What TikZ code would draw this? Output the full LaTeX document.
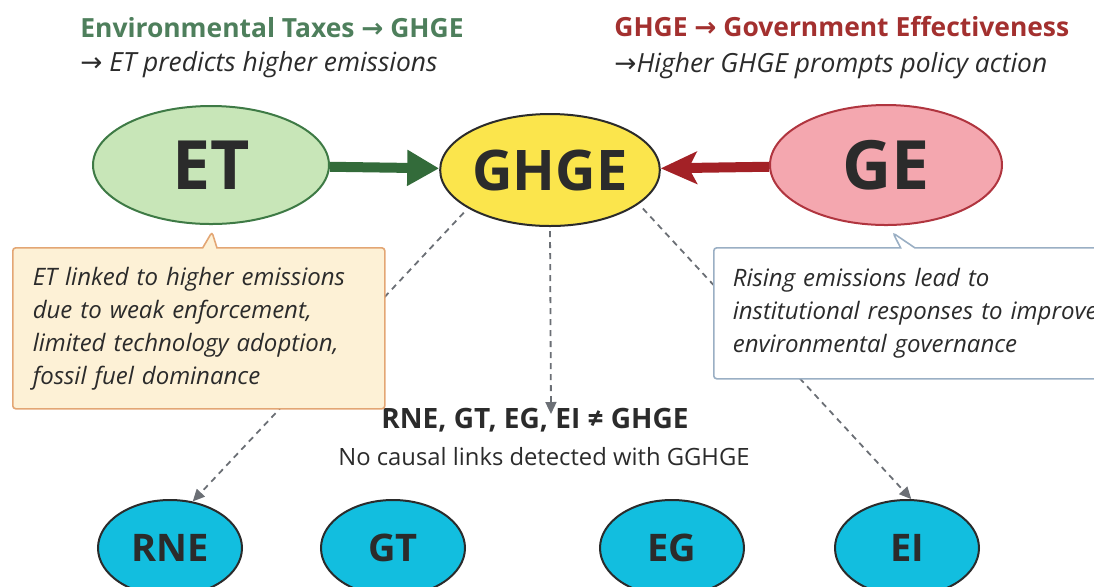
\documentclass[tikz,border=0pt]{standalone}
\usepackage{fontspec}
\setmainfont{Open Sans}
\newfontfamily\arrowfont{DejaVu Sans}
\usetikzlibrary{arrows.meta}
\usetikzlibrary{shapes.geometric}
\usetikzlibrary{shapes.callouts}

\definecolor{titlegreen}{HTML}{4E7F5C}
\definecolor{titlered}{HTML}{A3302F}
\definecolor{inkgray}{HTML}{2B2B2B}
\definecolor{etfill}{HTML}{C8E6B8}
\definecolor{etedge}{HTML}{3E7A45}
\definecolor{etarrow}{HTML}{336B3A}
\definecolor{ghgefill}{HTML}{FBE54C}
\definecolor{gefill}{HTML}{F4A7AF}
\definecolor{geedge}{HTML}{B0353F}
\definecolor{gearrow}{HTML}{A32126}
\definecolor{leaffill}{HTML}{12BEDF}
\definecolor{notefill}{HTML}{FDF1D6}
\definecolor{noteedge}{HTML}{E3A674}
\definecolor{govedge}{HTML}{9AAFC4}
\definecolor{dashgray}{HTML}{6B6F75}

\begin{document}
\begin{tikzpicture}[x=0.5pt, y=-0.5pt,
    bubble/.style={ellipse, draw, line width=1pt, inner sep=0pt, text=inkgray},
    bigbubble/.style={bubble, font=\bfseries\fontsize{34}{40}\selectfont},
    leaf/.style={bubble, fill=leaffill, draw=inkgray, minimum width=72pt, minimum height=48pt,
        font=\bfseries\fontsize{19}{22}\selectfont},
    heading/.style={anchor=base west, inner sep=0pt, font=\bfseries\fontsize{13.2}{15}\selectfont},
    subheading/.style={anchor=base west, inner sep=0pt, text=inkgray, font=\itshape\fontsize{13.2}{15}\selectfont},
    note/.style={rectangle callout, rounded corners=1.5pt, line width=0.8pt, anchor=north west,
        align=left, text=inkgray, inner xsep=10pt, font=\itshape\fontsize{12}{16.5}\selectfont},
    dasharrow/.style={dashgray, line width=0.9pt, dash pattern=on 3pt off 2.5pt,
        -{Triangle[length=6pt, width=5.5pt]}}]
    \useasboundingbox (0,0) rectangle (1094,586);
    \clip (0,0) rectangle (1094,586);

    \node[heading, text=titlegreen] (ettitle) at (80,37) {Environmental Taxes {\arrowfont →} GHGE};
    \node[subheading] (etline) at (80,71) {{\arrowfont →} ET predicts higher emissions};
    \node[heading, text=titlered] (getitle) at (614,36) {GHGE {\arrowfont →} Government Effectiveness};
    \node[subheading] (geline) at (614,72) {{\arrowfont →}Higher GHGE prompts policy action};

    \node[bigbubble, fill=etfill, draw=etedge, minimum width=118pt, minimum height=59pt] (ET) at (211,165) {ET};
    \node[bubble, fill=ghgefill, draw=inkgray, minimum width=95pt, minimum height=56pt,
        font=\bfseries\fontsize{28}{32}\selectfont] (GHGE) at (550,170) {GHGE};
    \node[bigbubble, fill=gefill, draw=geedge, minimum width=116pt, minimum height=60pt] (GE) at (886,165) {GE};

    \draw[etarrow, line width=5pt, -{Triangle[length=16pt, width=17pt]}] (ET) -- (GHGE);
    \draw[gearrow, line width=5pt, -{Stealth[length=18pt, width=16pt, inset=4pt]}] (GE) -- (GHGE);

    \foreach \name/\x in {RNE/170, GT/393, EG/672, EI/907}
    {
        \node[leaf] (\name) at (\x,548) {\name};
    }

    \node[anchor=base, text=inkgray, font=\bfseries\fontsize{14}{16}\selectfont] (nolink) at (535,428)
        {RNE, GT, EG, EI ≠ GHGE};
    \node[anchor=base, text=inkgray, font=\fontsize{11.9}{14}\selectfont] (nolinknote) at (544,465)
        {No causal links detected with GGHGE};

    \coordinate (midtip) at (551,414);
    \draw[dasharrow, shorten <=3pt] (GHGE.205) -- (RNE.64);
    \draw[dasharrow, shorten <=2pt] (GHGE.south) -- (midtip);
    \draw[dasharrow, shorten <=3pt] (GHGE.339) -- (EI.85);

    \coordinate (ettip) at (212,232);
    \coordinate (getip) at (893,233);
    \node[note, fill=notefill, draw=noteedge, callout absolute pointer={(ettip)},
        text width=166pt, minimum height=80.5pt] (etnote) at (12,247)
        {ET linked to higher emissions\\due to weak enforcement,\\limited technology adoption,\\fossil fuel dominance};
    \node[note, fill=white, draw=govedge, callout absolute pointer={(getip)},
        inner xsep=9.5pt, text width=240pt, minimum height=65.5pt] (genote) at (713,247)
        {Rising emissions lead to\\institutional responses to improve\\environmental governance};
\end{tikzpicture}
\end{document}
